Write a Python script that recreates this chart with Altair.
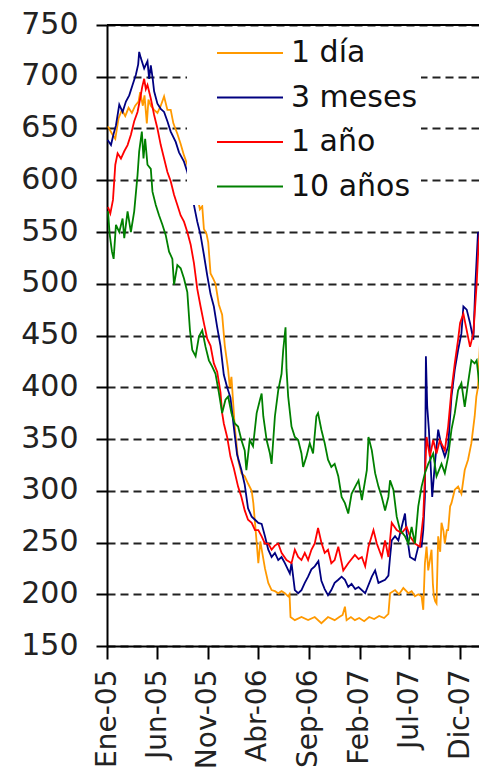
import altair as alt
import pandas as pd

series_names = ["1 día", "3 meses", "1 año", "10 años"]
series_colors = ["#FF9900", "#000080", "#FF0000", "#008000"]

# days counted from 2005-01-01
dia_days = [3, 15, 25, 35, 45, 55, 65, 75, 85, 95, 100, 108, 113, 120, 125, 132, 142, 152, 162, 172,
            182, 192, 200, 212, 222, 232, 242, 252, 262, 272, 280, 287, 292, 300, 305, 312, 320, 327, 337, 347,
            355, 365, 370, 375, 385, 395, 405, 415, 425, 436, 441, 446, 451, 456, 462, 468, 476, 486, 496, 506,
            516, 526, 536, 546, 550, 553, 566, 586, 606, 626, 646, 666, 686, 700, 710, 717, 722, 735, 747, 760,
            775, 790, 805, 820, 835, 848, 853, 868, 880, 893, 908, 918, 928, 938, 948, 953, 958, 963, 968, 974,
            978, 982, 985, 989, 993, 998, 1004, 1008, 1014, 1018, 1024, 1028, 1034, 1038, 1048, 1058, 1068, 1078, 1088, 1098,
            1108, 1113, 1118, 1123, 1129, 1134, 1140, 1144]
dia_vals = [652, 645, 640, 660, 668, 662, 670, 665, 672, 676, 685, 672, 682, 655, 678, 672, 668, 665, 672, 681,
            668, 668, 655, 645, 635, 624, 615, 602, 589, 585, 572, 575, 553, 548, 540, 510, 505, 500, 480, 470,
            440, 417, 400, 410, 362, 330, 317, 314, 307, 300, 288, 269, 250, 230, 251, 240, 225, 211, 204, 203,
            201, 203, 201, 198, 200, 178, 175, 178, 175, 178, 172, 178, 175, 178, 180, 188, 175, 178, 175, 177,
            174, 178, 176, 179, 177, 181, 201, 204, 200, 206, 201, 203, 198, 200, 198, 185, 230, 246, 223, 235,
            243, 210, 198, 193, 191, 256, 241, 269, 261, 249, 262, 262, 285, 288, 301, 304, 297, 320, 330, 346,
            372, 391, 400, 436, 478, 449, 445, 455]

meses_days = [2, 12, 20, 27, 37, 47, 57, 67, 77, 87, 94, 97, 102, 112, 122, 127, 132, 137, 142, 152,
              162, 172, 182, 192, 207, 217, 232, 242, 252, 262, 272, 282, 292, 302, 312, 322, 332, 342, 352, 362,
              372, 382, 392, 405, 415, 425, 436, 446, 456, 466, 476, 486, 496, 506, 516, 526, 536, 551, 556, 566,
              576, 586, 596, 606, 616, 626, 637, 646, 656, 666, 676, 686, 697, 707, 717, 727, 737, 748, 758, 778,
              798, 808, 818, 838, 848, 853, 858, 868, 878, 888, 898, 903, 913, 928, 938, 948, 953, 958, 961, 965,
              970, 976, 980, 988, 998, 1008, 1018, 1028, 1038, 1048, 1058, 1068, 1074, 1084, 1094, 1104, 1110, 1118, 1124, 1130,
              1138, 1144]
meses_vals = [639, 634, 645, 653, 673, 666, 676, 682, 692, 702, 712, 724, 718, 708, 715, 698, 711, 700, 686, 674,
              669, 666, 657, 647, 637, 627, 618, 608, 595, 576, 560, 547, 528, 508, 490, 478, 458, 440, 412, 400,
              390, 362, 335, 320, 306, 283, 275, 272, 269, 268, 256, 243, 236, 240, 233, 236, 230, 220, 230, 204,
              201, 204, 211, 217, 224, 227, 232, 213, 205, 199, 204, 211, 214, 217, 214, 207, 210, 205, 207, 201,
              217, 223, 211, 214, 218, 236, 252, 256, 252, 265, 278, 259, 236, 233, 246, 246, 262, 294, 430, 381,
              359, 320, 294, 326, 359, 343, 333, 343, 391, 417, 436, 452, 478, 475, 462, 446, 499, 550, 540, 541,
              525, 520]

ano_days = [3, 10, 18, 25, 32, 42, 52, 62, 72, 82, 92, 100, 106, 112, 117, 122, 132, 142, 152, 162,
            172, 182, 192, 202, 212, 222, 232, 242, 252, 262, 272, 282, 292, 302, 312, 322, 332, 342, 347, 352,
            362, 372, 382, 395, 405, 415, 425, 436, 446, 456, 466, 476, 486, 496, 506, 516, 526, 541, 556, 566,
            576, 586, 596, 606, 616, 626, 636, 646, 656, 666, 676, 686, 697, 712, 727, 747, 758, 768, 778, 788,
            803, 813, 828, 838, 848, 858, 873, 888, 903, 913, 928, 943, 953, 963, 973, 983, 993, 1003, 1018, 1028,
            1038, 1048, 1058, 1064, 1074, 1084, 1094, 1104, 1114, 1120, 1126, 1133, 1140, 1144]
ano_vals = [574, 568, 581, 615, 626, 621, 628, 634, 644, 657, 666, 679, 690, 698, 688, 692, 679, 663, 650, 634,
            621, 608, 599, 586, 576, 566, 560, 550, 538, 520, 495, 478, 462, 447, 440, 423, 415, 395, 375, 365,
            352, 333, 322, 304, 294, 281, 272, 269, 262, 262, 256, 249, 249, 243, 247, 249, 240, 233, 230, 243,
            236, 233, 240, 233, 243, 249, 264, 250, 240, 243, 230, 233, 246, 223, 230, 238, 234, 236, 227, 246,
            262, 249, 236, 252, 236, 269, 262, 259, 265, 256, 249, 246, 275, 352, 333, 349, 336, 349, 339, 362,
            397, 423, 446, 462, 471, 455, 439, 452, 500, 540, 557, 541, 545, 535]

diez_days = [3, 8, 15, 20, 27, 37, 47, 52, 62, 72, 82, 92, 97, 105, 110, 115, 122, 132, 137, 147,
             157, 167, 177, 187, 197, 202, 212, 222, 232, 242, 250, 257, 267, 277, 287, 297, 307, 317, 327, 337,
             347, 357, 365, 375, 385, 395, 405, 415, 420, 430, 440, 451, 461, 466, 471, 481, 491, 496, 506, 516,
             526, 531, 538, 541, 546, 556, 566, 576, 586, 591, 601, 611, 621, 631, 636, 646, 656, 666, 676, 686,
             697, 707, 717, 727, 737, 748, 758, 768, 783, 788, 798, 808, 818, 828, 838, 848, 853, 863, 873, 883,
             898, 908, 918, 928, 938, 948, 958, 968, 983, 993, 1008, 1018, 1028, 1038, 1048, 1058, 1068, 1078, 1088, 1098,
             1108, 1114, 1124, 1134, 1144]
diez_vals = [570, 548, 531, 524, 557, 550, 563, 544, 570, 550, 570, 605, 628, 647, 621, 640, 615, 611, 589, 576,
             566, 557, 547, 531, 524, 499, 518, 515, 505, 492, 455, 436, 430, 449, 455, 439, 426, 420, 413, 395,
             375, 388, 391, 375, 365, 362, 349, 339, 320, 349, 343, 375, 388, 394, 372, 349, 336, 326, 372, 397,
             413, 436, 458, 417, 391, 362, 352, 349, 336, 323, 333, 346, 336, 372, 375, 359, 346, 330, 323, 326,
             314, 294, 288, 278, 297, 304, 310, 291, 320, 352, 339, 317, 304, 294, 281, 294, 310, 301, 275, 262,
             256, 249, 265, 249, 285, 304, 317, 326, 336, 314, 326, 317, 333, 359, 375, 397, 404, 381, 404, 426,
             423, 426, 397, 365, 368]

tick_dates = [(2005, 1), (2005, 6), (2005, 11), (2006, 4), (2006, 9), (2007, 2), (2007, 7), (2007, 12)]
y_ticks = [150, 200, 250, 300, 350, 400, 450, 500, 550, 600, 650, 700, 750]

start = pd.Timestamp("2005-01-01")
rows = []
for name, days, vals in zip(series_names,
                            [dia_days, meses_days, ano_days, diez_days],
                            [dia_vals, meses_vals, ano_vals, diez_vals]):
    for d, v in zip(days, vals):
        rows.append({"fecha": (start + pd.Timedelta(days=d)).strftime("%Y-%m-%d"),
                     "serie": name, "valor": v})
df = pd.DataFrame(rows)

FONT = "DejaVu Sans"
label_expr = ("['Ene','Feb','Mar','Abr','May','Jun','Jul','Ago','Sep','Oct','Nov','Dic']"
              "[utcmonth(datum.value)] + '-' + utcFormat(datum.value, '%y')")

lines = alt.Chart(df).mark_line(strokeWidth=1.8, clip=True).encode(
    x=alt.X("fecha:T",
            scale=alt.Scale(type="utc",
                            domain=[alt.DateTime(year=2005, month=1, date=1, utc=True),
                                    alt.DateTime(year=2008, month=1, date=27, utc=True)]),
            axis=alt.Axis(values=[alt.DateTime(year=y, month=m, date=1, utc=True) for y, m in tick_dates],
                          labelExpr=label_expr, labelAngle=-90, labelFlush=False, labelOverlap=False,
                          labelFontSize=28, tickSize=13, labelPadding=10, grid=False, title=None)),
    y=alt.Y("valor:Q",
            scale=alt.Scale(domain=[150, 750], nice=False, zero=False),
            axis=alt.Axis(values=y_ticks, tickSize=11, labelPadding=18, grid=True,
                          gridDash=[8, 5], gridColor="#222222", gridWidth=1.8,
                          labelOffset=-1, labelFontSize=30, title=None)),
    color=alt.Color("serie:N",
                    scale=alt.Scale(domain=series_names, range=series_colors),
                    legend=alt.Legend(orient="none", legendX=80, legendY=9, title=None,
                                      fillColor="white", padding=3,
                                      symbolType="M-1,0H3.4", symbolSize=900,
                                      symbolStrokeWidth=2, symbolOffset=26, labelOffset=43,
                                      labelFontSize=30, labelFont=FONT, labelColor="#111111",
                                      rowPadding=13.5, direction="vertical")),
)

top_line = alt.Chart(pd.DataFrame({"v": [750]})).mark_rule(color="black", strokeWidth=2).encode(
    y=alt.datum(750)
)

chart = alt.layer(lines, top_line).properties(
    width=372, height=621,
    autosize=alt.AutoSizeParams(type="none"),
    padding={"left": 99, "top": 17, "right": 0, "bottom": 124},
).configure_view(stroke=None).configure_axis(
    labelFont=FONT, labelColor="#222222",
    domainColor="black", domainWidth=2, tickColor="black", tickWidth=2,
)

chart.save("out.html", embed_options={"renderer": "svg", "actions": False})
